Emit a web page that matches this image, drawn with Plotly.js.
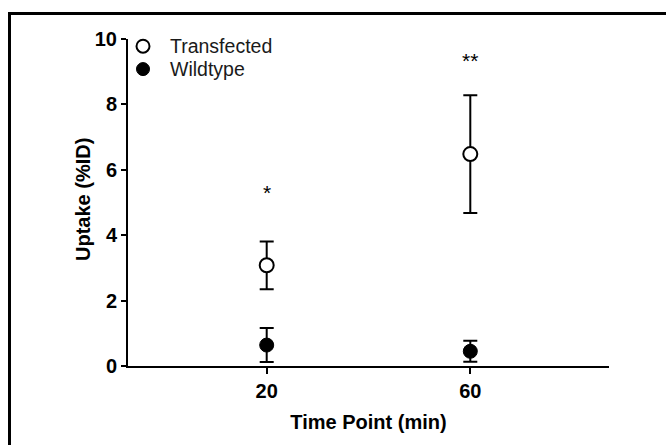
<!DOCTYPE html>
<html>
<head>
<meta charset="utf-8">
<script src="https://cdn.plot.ly/plotly-3.0.1.min.js"></script>
<style>
  html, body { margin: 0; padding: 0; background: #fff; overflow: hidden; }
  #chart { position: absolute; left: 0; top: 0; width: 666px; height: 445px; }
  #frame { position: absolute; left: 8px; top: 12px; width: 700px; height: 500px;
           border-left: 3px solid #000; border-top: 3px solid #000; pointer-events: none; }
</style>
</head>
<body>
<div id="chart"></div>
<div id="frame"></div>
<script>
// Data
const timePoints = [20, 60];
const tickLabels = ["20", "60"];
const seriesNames = ["Transfected", "Wildtype"];
const transfectedMean = [3.08, 6.48];
const transfectedErr = [0.73, 1.8];
const wildtypeMean = [0.64, 0.45];
const wildtypeErr = [0.52, 0.32];
const sigLabels = ["*", "**"];
const sigY = [5.3, 9.35];
const yTitle = "Uptake (%ID)";
const xTitle = "Time Point (min)";

const font = "Liberation Sans, Arial, sans-serif";
const fills = ["#fff", "#000"];

const traces = [
  {
    x: timePoints, y: transfectedMean, name: seriesNames[0],
    type: "scatter", mode: "markers", cliponaxis: false, showlegend: false,
    marker: { symbol: "circle", size: 14, color: fills[0], line: { color: "#000", width: 2 } },
    error_y: { type: "data", array: transfectedErr, visible: true, color: "#000", thickness: 2, width: 7 }
  },
  {
    x: timePoints, y: wildtypeMean, name: seriesNames[1],
    type: "scatter", mode: "markers", cliponaxis: false, showlegend: false,
    marker: { symbol: "circle", size: 14, color: fills[1], line: { color: "#000", width: 1 } },
    error_y: { type: "data", array: wildtypeErr, visible: true, color: "#000", thickness: 2, width: 7 }
  }
];

const annotations = timePoints.map((t, i) => ({
  x: t, y: sigY[i], xref: "x", yref: "y", text: sigLabels[i], showarrow: false,
  font: { family: font, size: 21, color: "#000" }, xanchor: "center", yanchor: "middle"
}));

// Y-axis title placed as a rotated annotation to match the reference position
annotations.push({
  x: -0.094, y: 0.51, xref: "paper", yref: "paper", text: "<b>" + yTitle + "</b>",
  showarrow: false, textangle: -90, xanchor: "center", yanchor: "middle",
  font: { family: font, size: 20, color: "#000" }
});

// Custom compact legend (paper coordinates)
const legX = 0.0312, legTextX = 0.0852, legY = [0.978, 0.908];
const shapes = [];
seriesNames.forEach((name, i) => {
  shapes.push({
    type: "circle", xref: "paper", yref: "paper", xsizemode: "pixel", ysizemode: "pixel",
    xanchor: legX, yanchor: legY[i], x0: -6.5, x1: 6.5, y0: -6.5, y1: 6.5,
    fillcolor: fills[i], line: { color: "#000", width: i === 0 ? 2 : 1 }
  });
  annotations.push({
    x: legTextX, y: legY[i], xref: "paper", yref: "paper", text: name, showarrow: false,
    xanchor: "left", yanchor: "middle", borderpad: 0,
    font: { family: font, size: 19.5, color: "#1a1a1a" }
  });
});

const layout = {
  width: 666, height: 445,
  margin: { l: 128, r: 57, t: 39, b: 79 },
  paper_bgcolor: "#fff", plot_bgcolor: "#fff",
  font: { family: font, color: "#000" },
  showlegend: false,
  xaxis: {
    range: [-7.25, 87.25], tickvals: timePoints, ticktext: tickLabels,
    showgrid: false, zeroline: false, showline: true, linecolor: "#000", linewidth: 2,
    ticks: "outside", ticklen: 6, tickwidth: 2, tickcolor: "#000",
    tickfont: { family: font, size: 20, color: "#000", weight: "bold" },
    title: { text: "<b>" + xTitle + "</b>", font: { family: font, size: 20, color: "#000" }, standoff: 14 }
  },
  yaxis: {
    range: [0, 10], tickvals: [0, 2, 4, 6, 8, 10],
    showgrid: false, zeroline: false, showline: true, linecolor: "#000", linewidth: 2,
    ticks: "outside", ticklen: 5, tickwidth: 2, tickcolor: "#000",
    tickfont: { family: font, size: 20, color: "#000", weight: "bold" }
  },
  shapes: shapes,
  annotations: annotations
};

Plotly.newPlot("chart", traces, layout, { staticPlot: true, displayModeBar: false });
</script>
</body>
</html>
